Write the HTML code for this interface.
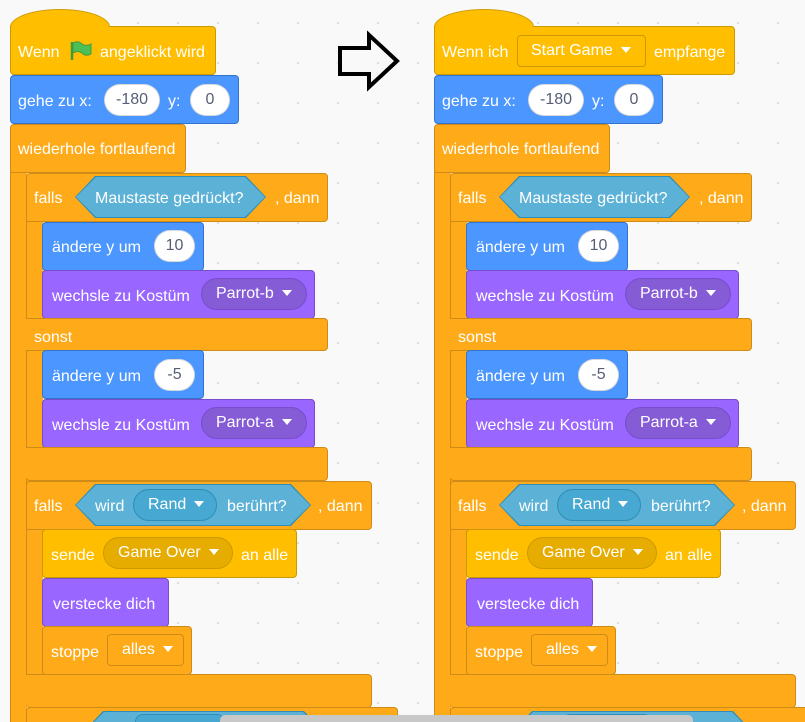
<!DOCTYPE html>
<html style="overflow:hidden;width:805px;height:722px"><head><meta charset="utf-8"><style>
*{margin:0;padding:0;box-sizing:border-box}
body{width:805px;height:722px;overflow:hidden;background:#f9f9f9;background-image:radial-gradient(circle,#ddd 1px,transparent 1.3px);background-size:40px 40px;background-position:-2px 3px;font-family:"Liberation Sans",sans-serif;font-size:16px;color:#fff;position:relative}
.b{position:absolute;border:1px solid;border-radius:4px;height:49px}
.o{background:#FFAB19;border-color:#CF8B17}
.y{background:#FFBF00;border-color:#CC9900}
.m{background:#4C97FF;border-color:#3373CC}
.p{background:#9966FF;border-color:#774DCB}
.col{position:absolute;background:#FFAB19;border-left:1px solid #CF8B17}
.t{position:absolute;white-space:nowrap;line-height:18px;margin-top:2px}
.ov{position:absolute;height:32px;border-radius:16px;background:#fff;color:#575E75;border:1px solid rgba(0,0,0,.15);text-align:center;line-height:30px}
.dd{position:absolute;height:32px;border-radius:16px;line-height:30px;padding-left:14px;white-space:nowrap}
.tri{display:inline-block;width:0;height:0;border-left:5px solid transparent;border-right:5px solid transparent;border-top:6px solid #fff;margin-left:8px;vertical-align:2px}
.hex{position:absolute;height:42px;background:#2E8EB8;clip-path:polygon(0 50%,20px 0,calc(100% - 20px) 0,100% 50%,calc(100% - 20px) 100%,20px 100%)}
.hex i{position:absolute;inset:1px;background:#5CB1D6;clip-path:polygon(0 50%,20px 0,calc(100% - 20px) 0,100% 50%,calc(100% - 20px) 100%,20px 100%)}
.hump{position:absolute;background:#FFBF00;border:1px solid #CC9900;border-bottom:none;border-radius:50px 50px 0 0/18px 18px 0 0;height:24px}
</style></head><body>

<svg style="position:absolute;left:0;top:0" width="805" height="722"><polygon points="340,48 369,48 369,35 397,61 369,87 369,74 340,74" fill="none" stroke="#000" stroke-width="4" stroke-linejoin="miter"/></svg>

<!-- LEFT SCRIPT -->
<div class="hump" style="left:10px;top:9px;width:100px"></div>
<div class="b y" style="left:10px;top:26px;width:206px;border-top-left-radius:0"></div>
<div class="hump" style="left:11px;top:10px;width:98px;border:none;height:18px"></div>
<div class="t" style="left:18px;top:42px">Wenn</div>
<svg style="position:absolute;left:69px;top:40px" width="24" height="22"><path d="M3 2 V20" stroke="#45993d" stroke-width="2.5"/><path d="M4 3 Q9 0 13 4 Q17 7 22 4 V14 Q17 17 13 13 Q9 10 4 13Z" fill="#4cbf56" stroke="#45993d" stroke-width="1"/></svg>
<div class="t" style="left:100px;top:42px">angeklickt wird</div>

<div class="b m" style="left:10px;top:75px;width:229px"></div>
<div class="t" style="left:18px;top:91px">gehe zu x:</div>
<div class="ov" style="left:104px;top:84px;width:56px">-180</div>
<div class="t" style="left:168px;top:91px">y:</div>
<div class="ov" style="left:190px;top:84px;width:40px">0</div>

<div class="col" style="left:10px;top:150px;width:17px;height:572px"></div>
<div class="b o" style="left:10px;top:124px;width:176px;height:49px;border-bottom-left-radius:0"></div>
<div class="t" style="left:18px;top:139px">wiederhole fortlaufend</div>

<div class="col" style="left:26px;top:195px;width:17px;height:290px"></div>
<div class="b o" style="left:26px;top:173px;width:302px;border-bottom-left-radius:0"></div>
<div class="t" style="left:34px;top:188px">falls</div>
<div class="hex" style="left:75px;top:176px;width:191px"><i></i></div>
<div class="t" style="left:95px;top:188px">Maustaste gedrückt?</div>
<div class="t" style="left:275px;top:188px">, dann</div>

<div class="b m" style="left:42px;top:222px;width:162px"></div>
<div class="t" style="left:52px;top:237px">ändere y um</div>
<div class="ov" style="left:154px;top:230px;width:41px">10</div>
<div class="b p" style="left:42px;top:270px;width:273px"></div>
<div class="t" style="left:52px;top:286px">wechsle zu Kostüm</div>
<div class="dd" style="left:201px;top:278px;width:106px;background:#855CD6;border:1px solid #774DCB">Parrot-b<span class="tri"></span></div>

<div class="b o" style="left:26px;top:318px;width:302px;height:33px;border-top-left-radius:0;border-bottom-left-radius:0;border-left:none"></div>
<div class="t" style="left:34px;top:327px">sonst</div>

<div class="b m" style="left:42px;top:350px;width:162px"></div>
<div class="t" style="left:52px;top:366px">ändere y um</div>
<div class="ov" style="left:154px;top:359px;width:41px">-5</div>
<div class="b p" style="left:42px;top:399px;width:273px"></div>
<div class="t" style="left:52px;top:415px">wechsle zu Kostüm</div>
<div class="dd" style="left:201px;top:407px;width:106px;background:#855CD6;border:1px solid #774DCB">Parrot-a<span class="tri"></span></div>

<div class="b o" style="left:26px;top:447px;width:302px;height:34px;border-top-left-radius:0;border-left:none"></div>

<div class="col" style="left:26px;top:500px;width:17px;height:190px"></div>
<div class="b o" style="left:26px;top:481px;width:346px;border-bottom-left-radius:0"></div>
<div class="t" style="left:34px;top:496px">falls</div>
<div class="hex" style="left:75px;top:484px;width:236px"><i></i></div>
<div class="t" style="left:95px;top:496px">wird</div>
<div class="dd" style="left:133px;top:489px;width:84px;background:#47A8D1;border:1px solid #2E8EB8">Rand<span class="tri"></span></div>
<div class="t" style="left:227px;top:496px">berührt?</div>
<div class="t" style="left:318px;top:496px">, dann</div>

<div class="b y" style="left:42px;top:529px;width:255px"></div>
<div class="t" style="left:51px;top:545px">sende</div>
<div class="dd" style="left:103px;top:537px;width:130px;background:#E6AC00;border:1px solid #CC9900">Game Over<span class="tri"></span></div>
<div class="t" style="left:241px;top:545px">an alle</div>
<div class="b p" style="left:42px;top:578px;width:127px"></div>
<div class="t" style="left:53px;top:594px">verstecke dich</div>
<div class="b o" style="left:42px;top:626px;width:150px"></div>
<div class="t" style="left:51px;top:642px">stoppe</div>
<div class="dd" style="left:107px;top:634px;width:77px;border:1px solid #CF8B17;border-radius:4px">alles<span class="tri"></span></div>

<div class="b o" style="left:26px;top:674px;width:346px;height:34px;border-top-left-radius:0;border-left:none"></div>
<div class="b o" style="left:26px;top:707px;width:372px;height:15px;border-bottom:none;border-radius:4px 4px 0 0"></div>
<div class="hex" style="left:83px;top:711px;width:241px"><i></i></div>
<div style="position:absolute;left:135px;top:714px;width:90px;height:8px;border-radius:15px 15px 0 0;background:#47A8D1;border:1px solid #2E8EB8;border-bottom:none"></div>

<!-- RIGHT SCRIPT -->
<div class="hump" style="left:434px;top:9px;width:100px"></div>
<div class="b y" style="left:434px;top:26px;width:301px;border-top-left-radius:0"></div>
<div class="hump" style="left:435px;top:10px;width:98px;border:none;height:18px"></div>
<div class="t" style="left:442px;top:42px">Wenn ich</div>
<div class="dd" style="left:517px;top:35px;width:129px;border:1px solid #CC9900;border-radius:4px;background:#FFBF00;padding-left:13px">Start Game<span class="tri"></span></div>
<div class="t" style="left:654px;top:42px">empfange</div>

<div class="b m" style="left:434px;top:75px;width:229px"></div>
<div class="t" style="left:442px;top:91px">gehe zu x:</div>
<div class="ov" style="left:528px;top:84px;width:56px">-180</div>
<div class="t" style="left:592px;top:91px">y:</div>
<div class="ov" style="left:614px;top:84px;width:40px">0</div>

<div class="col" style="left:434px;top:150px;width:17px;height:572px"></div>
<div class="b o" style="left:434px;top:124px;width:176px;border-bottom-left-radius:0"></div>
<div class="t" style="left:442px;top:139px">wiederhole fortlaufend</div>

<div class="col" style="left:450px;top:195px;width:17px;height:290px"></div>
<div class="b o" style="left:450px;top:173px;width:302px;border-bottom-left-radius:0"></div>
<div class="t" style="left:458px;top:188px">falls</div>
<div class="hex" style="left:499px;top:176px;width:191px"><i></i></div>
<div class="t" style="left:519px;top:188px">Maustaste gedrückt?</div>
<div class="t" style="left:699px;top:188px">, dann</div>

<div class="b m" style="left:466px;top:222px;width:162px"></div>
<div class="t" style="left:476px;top:237px">ändere y um</div>
<div class="ov" style="left:578px;top:230px;width:41px">10</div>
<div class="b p" style="left:466px;top:270px;width:273px"></div>
<div class="t" style="left:476px;top:286px">wechsle zu Kostüm</div>
<div class="dd" style="left:625px;top:278px;width:106px;background:#855CD6;border:1px solid #774DCB">Parrot-b<span class="tri"></span></div>

<div class="b o" style="left:450px;top:318px;width:302px;height:33px;border-top-left-radius:0;border-bottom-left-radius:0;border-left:none"></div>
<div class="t" style="left:458px;top:327px">sonst</div>

<div class="b m" style="left:466px;top:350px;width:162px"></div>
<div class="t" style="left:476px;top:366px">ändere y um</div>
<div class="ov" style="left:578px;top:359px;width:41px">-5</div>
<div class="b p" style="left:466px;top:399px;width:273px"></div>
<div class="t" style="left:476px;top:415px">wechsle zu Kostüm</div>
<div class="dd" style="left:625px;top:407px;width:106px;background:#855CD6;border:1px solid #774DCB">Parrot-a<span class="tri"></span></div>

<div class="b o" style="left:450px;top:447px;width:302px;height:34px;border-top-left-radius:0;border-left:none"></div>

<div class="col" style="left:450px;top:500px;width:17px;height:190px"></div>
<div class="b o" style="left:450px;top:481px;width:346px;border-bottom-left-radius:0"></div>
<div class="t" style="left:458px;top:496px">falls</div>
<div class="hex" style="left:499px;top:484px;width:236px"><i></i></div>
<div class="t" style="left:519px;top:496px">wird</div>
<div class="dd" style="left:557px;top:489px;width:84px;background:#47A8D1;border:1px solid #2E8EB8">Rand<span class="tri"></span></div>
<div class="t" style="left:651px;top:496px">berührt?</div>
<div class="t" style="left:742px;top:496px">, dann</div>

<div class="b y" style="left:466px;top:529px;width:255px"></div>
<div class="t" style="left:475px;top:545px">sende</div>
<div class="dd" style="left:527px;top:537px;width:130px;background:#E6AC00;border:1px solid #CC9900">Game Over<span class="tri"></span></div>
<div class="t" style="left:665px;top:545px">an alle</div>
<div class="b p" style="left:466px;top:578px;width:127px"></div>
<div class="t" style="left:477px;top:594px">verstecke dich</div>
<div class="b o" style="left:466px;top:626px;width:150px"></div>
<div class="t" style="left:475px;top:642px">stoppe</div>
<div class="dd" style="left:531px;top:634px;width:77px;border:1px solid #CF8B17;border-radius:4px">alles<span class="tri"></span></div>

<div class="b o" style="left:450px;top:674px;width:346px;height:34px;border-top-left-radius:0;border-left:none"></div>
<div class="b o" style="left:450px;top:707px;width:355px;height:15px;border-bottom:none;border-right:none;border-radius:4px 0 0 0"></div>
<div class="hex" style="left:512px;top:711px;width:241px"><i></i></div>
<div style="position:absolute;left:562px;top:714px;width:90px;height:8px;border-radius:15px 15px 0 0;background:#47A8D1;border:1px solid #2E8EB8;border-bottom:none"></div>

<div style="position:absolute;left:220px;top:715px;width:473px;height:7px;border-radius:5px 5px 0 0;background:#c8c8c8"></div>
</body></html>
